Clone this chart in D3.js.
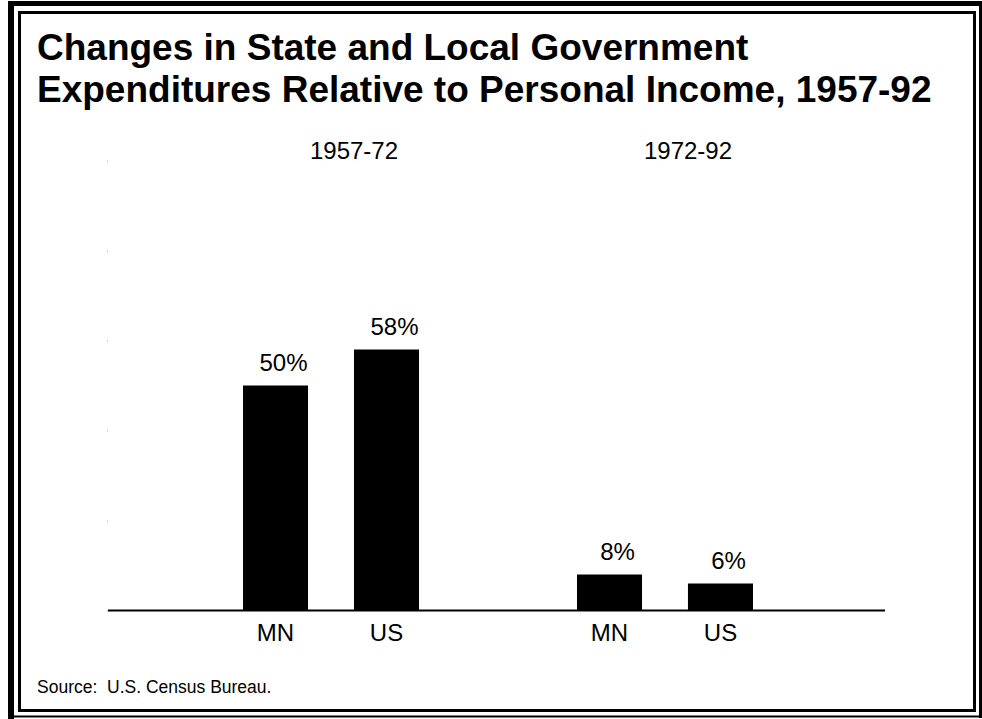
<!DOCTYPE html>
<html>
<head>
<meta charset="utf-8">
<script src="https://cdn.jsdelivr.net/npm/d3@7"></script>
<style>
  html, body { margin: 0; padding: 0; background: #fff; }
  svg { display: block; }
  text { font-family: "Liberation Sans", Arial, Helvetica, sans-serif; fill: #000; }
</style>
</head>
<body>
<svg id="chart" width="982" height="719"></svg>
<script>
// Percent change in state & local government spending relative to personal income
const periods = ["1957-72", "1972-92"];
const regions = ["MN", "US"];
const mnValues = [50, 8];
const usValues = [58, 6];
const yTicks = [0, 20, 40, 60, 80, 100];
const titleLines = [
  "Changes in State and Local Government",
  "Expenditures Relative to Personal Income, 1957-92"
];
const sourceNote = "Source:  U.S. Census Bureau.";

const rows = periods.flatMap((p, i) => [
  { period: p, region: "MN", value: mnValues[i] },
  { period: p, region: "US", value: usValues[i] }
]);

const svg = d3.select("#chart");

// Double frame: heavy outer rule on the left/top, heavy inner rule at the bottom
const frame = svg.append("g");
const rect = (x, y, w, h) => frame.append("rect").attr("x", x).attr("y", y).attr("width", w).attr("height", h).attr("fill", "#000");
rect(8, 1, 6, 718);       // outer left
rect(8, 1, 974, 5);       // outer top
rect(979, 1, 3, 717);     // outer right
rect(8, 715.5, 974, 2);   // outer bottom
rect(18, 11, 3, 701);     // inner left
rect(18, 11, 958, 3);     // inner top
rect(973, 11, 3, 701);    // inner right
rect(18, 709, 958, 3);    // inner bottom

// Title
svg.append("g").selectAll("text").data(titleLines).join("text")
  .attr("x", 37)
  .attr("y", (d, i) => 60 + i * 42)
  .attr("font-size", 37)
  .attr("font-weight", "bold")
  .text(d => d);

// Scales
const plot = { left: 108, right: 885, top: 160.5, bottom: 610.5 };
const x0 = d3.scaleBand().domain(periods).range([243, 753]).paddingInner(0.473).paddingOuter(0);
const x1 = d3.scaleBand().domain(regions).range([0, x0.bandwidth()]).paddingInner(0.414).paddingOuter(0);
const y = d3.scaleLinear().domain([0, 100]).range([plot.bottom, plot.top]);

// Faint tick marks along the (hidden) value axis
const yAxis = svg.append("g")
  .attr("transform", `translate(${plot.left},0)`)
  .call(d3.axisLeft(y).tickValues(yTicks).tickSize(1).tickFormat(""));
yAxis.select(".domain").remove();
yAxis.selectAll(".tick line").attr("stroke", "#aaa");

// Bars
const bx = d => x0(d.period) + x1(d.region);
svg.append("g").selectAll("rect").data(rows).join("rect")
  .attr("x", bx)
  .attr("y", d => y(d.value))
  .attr("width", x1.bandwidth())
  .attr("height", d => y(0) - y(d.value))
  .attr("fill", "#000");

// Value labels
svg.append("g").selectAll("text").data(rows).join("text")
  .attr("x", d => bx(d) + x1.bandwidth() / 2 + 8)
  .attr("y", d => y(d.value) - 15)
  .attr("text-anchor", "middle")
  .attr("font-size", 24)
  .text(d => d.value + "%");

// Baseline
svg.append("line")
  .attr("x1", plot.left).attr("x2", plot.right)
  .attr("y1", y(0)).attr("y2", y(0))
  .attr("stroke", "#000").attr("stroke-width", 2);

// Category labels under bars
svg.append("g").selectAll("text").data(rows).join("text")
  .attr("x", d => bx(d) + x1.bandwidth() / 2)
  .attr("y", 641)
  .attr("text-anchor", "middle")
  .attr("font-size", 24)
  .text(d => d.region);

// Period headers
svg.append("g").selectAll("text").data(periods).join("text")
  .attr("x", d => x0(d) + x0.bandwidth() / 2 + 23)
  .attr("y", 159)
  .attr("text-anchor", "middle")
  .attr("font-size", 24)
  .text(d => d);

// Source note
svg.append("text")
  .attr("x", 37).attr("y", 693)
  .attr("font-size", 17.5)
  .attr("xml:space", "preserve")
  .style("white-space", "pre")
  .text(sourceNote);
</script>
</body>
</html>
